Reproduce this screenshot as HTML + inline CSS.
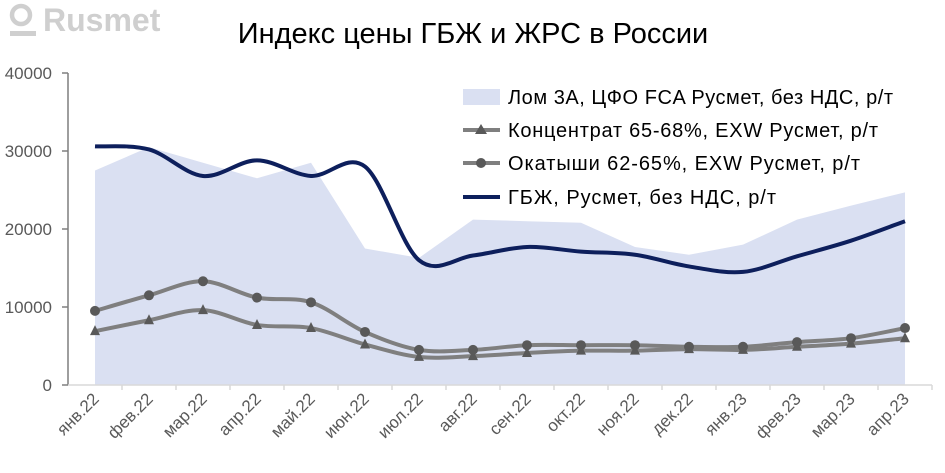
<!DOCTYPE html>
<html><head><meta charset="utf-8"><style>
body{margin:0;background:#fff}
svg{display:block;font-family:"Liberation Sans",sans-serif}
</style></head><body>
<svg id="s" width="945" height="473" xmlns="http://www.w3.org/2000/svg">
<text x="473" y="43" font-size="29" text-anchor="middle" fill="#000">Индекс цены ГБЖ и ЖРС в России</text>
<g fill="#cfcfcf"><circle cx="21" cy="15" r="9" fill="none" stroke="#cfcfcf" stroke-width="4.5"/><rect x="10" y="31" width="26" height="5"/>
<text x="43" y="31" font-size="32" font-weight="bold">Rusmet</text></g>
<g id="area"></g>
<g font-size="17" fill="#595959" text-anchor="end">
<text x="52" y="79">40000</text><text x="52" y="157">30000</text><text x="52" y="235">20000</text><text x="52" y="313">10000</text><text x="52" y="391">0</text>
</g>
<g stroke="#7f7f7f" stroke-width="1.5"><line x1="68" y1="73" x2="68" y2="385"/>
<line x1="62" y1="73" x2="68" y2="73"/><line x1="62" y1="151" x2="68" y2="151"/><line x1="62" y1="229" x2="68" y2="229"/><line x1="62" y1="307" x2="68" y2="307"/><line x1="62" y1="385" x2="68" y2="385"/></g>
<line x1="68" y1="385" x2="932" y2="385" stroke="#d9d9d9" stroke-width="1.5"/>
<g id="lines"></g>
<g id="labels" font-size="17" fill="#595959"></g>
<rect x="463" y="89" width="37" height="16" fill="#dae0f2"/>
<text x="508" y="104" font-size="20" textLength="385">Лом 3А, ЦФО FCA Русмет, без НДС, р/т</text>
<line x1="463" y1="130" x2="500" y2="130" stroke="#7f7f7f" stroke-width="4"/><polygon points="481,124 487,134 475,134" fill="#595959"/>
<text x="508" y="137" font-size="20" textLength="370">Концентрат 65-68%, EXW Русмет, р/т</text>
<line x1="463" y1="163" x2="500" y2="163" stroke="#7f7f7f" stroke-width="4"/><circle cx="481" cy="163" r="5" fill="#595959"/>
<text x="508" y="170" font-size="20" textLength="352">Окатыши 62-65%, EXW Русмет, р/т</text>
<line x1="463" y1="197" x2="500" y2="197" stroke="#0d1f5c" stroke-width="4"/>
<text x="508" y="204" font-size="20" textLength="268">ГБЖ, Русмет, без НДС, р/т</text>
</svg>
<script>
var X=i=>95+i*54,Y=v=>385-v*0.0078;
var lom=[27500,30500,28500,26500,28500,17500,16300,21200,21000,20800,17700,16700,18000,21200,23000,24700];
var g=[30600,30200,26800,28800,26800,28000,16000,16600,17700,17100,16700,15200,14500,16500,18500,21000];
var o=[9500,11500,13300,11200,10600,6800,4500,4500,5100,5100,5100,4900,4900,5500,6000,7300];
var k=[6900,8300,9600,7700,7300,5200,3600,3700,4100,4400,4400,4600,4500,4900,5300,6000];
var ns="http://www.w3.org/2000/svg";
function el(p,t,a){var e=document.createElementNS(ns,t);for(var n in a)e.setAttribute(n,a[n]);document.getElementById(p).appendChild(e);return e;}
var a="M95,385";lom.forEach((v,i)=>a+=" L"+X(i)+","+Y(v));a+=" L905,385Z";
el("area","path",{d:a,fill:"#dae0f2"});
function sm(d){var p=d.map((v,i)=>[X(i),Y(v)]);var s="M"+p[0];for(var i=0;i<p.length-1;i++){var p0=p[i-1]||p[i],p1=p[i],p2=p[i+1],p3=p[i+2]||p2;
var c1=[p1[0]+(p2[0]-p0[0])/6,p1[1]+(p2[1]-p0[1])/6],c2=[p2[0]-(p3[0]-p1[0])/6,p2[1]-(p3[1]-p1[1])/6];s+=" C"+c1+" "+c2+" "+p2;}return s;}
el("lines","path",{d:sm(k),fill:"none",stroke:"#7f7f7f","stroke-width":4});
el("lines","path",{d:sm(o),fill:"none",stroke:"#7f7f7f","stroke-width":4});
k.forEach((v,i)=>el("lines","polygon",{points:(X(i))+","+(Y(v)-6)+" "+(X(i)+5)+","+(Y(v)+4)+" "+(X(i)-5)+","+(Y(v)+4),fill:"#595959"}));
o.forEach((v,i)=>el("lines","circle",{cx:X(i),cy:Y(v),r:5,fill:"#595959"}));
el("lines","path",{d:sm(g),fill:"none",stroke:"#0d1f5c","stroke-width":4});
var L=["янв.22","фев.22","мар.22","апр.22","май.22","июн.22","июл.22","авг.22","сен.22","окт.22","ноя.22","дек.22","янв.23","фев.23","мар.23","апр.23"];
L.forEach((t,i)=>{var e=el("labels","text",{x:X(i)+5,y:400,"text-anchor":"end",transform:"rotate(-45 "+(X(i)+5)+" 400)"});e.textContent=t;
el("lines","line",{x1:68+(i+1)*54,y1:385,x2:68+(i+1)*54,y2:390,stroke:"#d9d9d9","stroke-width":1.5});});
</script>
</body></html>
